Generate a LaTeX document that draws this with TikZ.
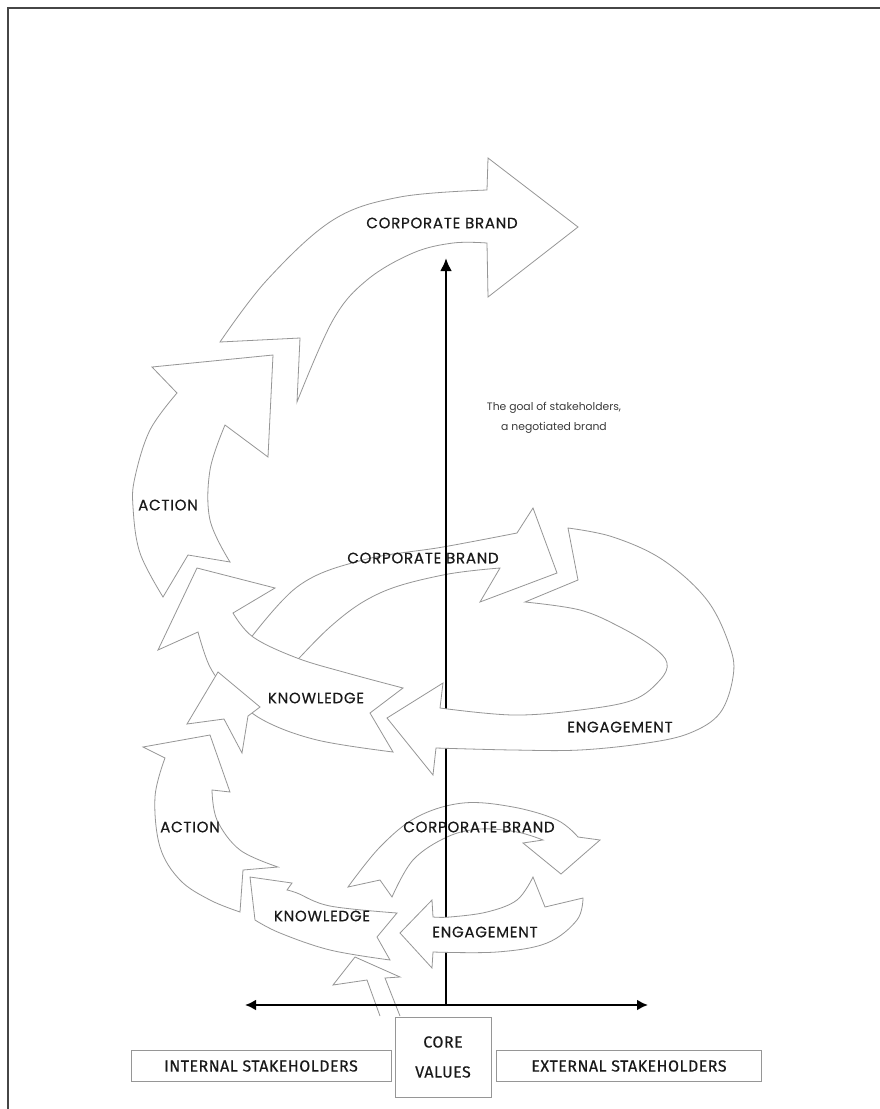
\documentclass[tikz,border=0pt]{standalone}
\usepackage{fontspec}
\setmainfont{Poppins}
\newfontfamily\lblfont{Poppins}[FakeBold=0.5,LetterSpace=5]
\newfontfamily\capfont{Poppins}
\newfontfamily\boxfont{Fira Sans}[FakeBold=0.3,LetterSpace=3]
\usetikzlibrary{arrows.meta}
\definecolor{arrgray}{RGB}{150,150,150}
\definecolor{ink}{RGB}{25,25,25}
\definecolor{framegray}{RGB}{70,70,70}
\begin{document}
\begin{tikzpicture}[x=1pt,y=-1pt,
  arr/.style={draw=arrgray, fill=white, line width=0.8pt, line join=miter},
  lbl/.style={text=ink, font=\lblfont\fontsize{15}{17}\selectfont, inner sep=0pt},
  captxt/.style={text=ink!85, font=\capfont\fontsize{10.8}{20}\selectfont, align=center, inner sep=0pt},
  boxtxt/.style={text=ink, font=\boxfont\fontsize{16}{19}\selectfont, align=center, inner sep=0pt},
  axis/.style={draw=black, line width=2.6pt},
  sbox/.style={draw=arrgray, line width=0.8pt, fill=white}]
\useasboundingbox (0,0) rectangle (880,1109);
\fill[white] (0,0) rectangle (880,1109);
% frame
\draw[framegray, line width=1.4pt] (8,1109) -- (8,8) -- (880,8);

% ---- top corporate brand (big) ----
\filldraw[arr] plot[smooth,tension=0.6] coordinates {(220,342) (267,280) (333,220) (400,197) (487,190)}
  -- (488,158) -- (578,227) -- (488,297) --
  plot[smooth,tension=0.6] coordinates {(487,243) (453,243) (413,253) (367,280) (333,320) (297,402)}
  -- (300,338) -- cycle;
\node[lbl] (cb1) at (442,223) {CORPORATE BRAND};

% ---- upper action ----
\filldraw[arr] plot[smooth,tension=0.6] coordinates {(163,597) (140,553) (133,507) (135,477) (150,430) (177,393)}
  -- (152,367) -- (273,355) -- (268,457) --
  plot[smooth,tension=0.6] coordinates {(225,425) (210,470) (210,520) (230,562)}
  -- (188,555) -- cycle;
\node[lbl] (act1) at (168,505) {ACTION};

% ---- middle corporate brand ----
\filldraw[arr] plot[smooth,tension=0.6] coordinates {(240,652) (297,587) (363,560) (443,547) (517,533)}
  -- (533,508) -- (557,573) -- (480,602) --
  plot[smooth,tension=0.6] coordinates {(500,568) (443,575) (380,593) (330,627) (270,690)}
  -- cycle;
\node[lbl] (cb2) at (423,558) {CORPORATE BRAND};

% ---- middle knowledge ----
\filldraw[arr] (197,568) -- (275,588) --
  plot[smooth,tension=0.6] coordinates {(233,613) (253,637) (297,658) (347,673) (403,688)}
  -- (370,713) --
  plot[smooth,tension=0.6] coordinates {(393,752) (317,740) (263,720) (230,693) (210,667) (198,632)}
  -- (158,650) -- cycle;
\node[lbl] (kn1) at (316,698) {KNOWLEDGE};

% ---- small corporate brand ----
\filldraw[arr] plot[smooth,tension=0.6] coordinates {(348,887) (380,847) (417,817) (463,803) (513,807) (557,820) (578,837)}
  -- (600,840) -- (561,874) -- (523,843) --
  plot[smooth,tension=0.6] coordinates {(543,840) (517,832) (480,829) (447,837) (413,860) (392,897)}
  -- (380,880) -- cycle;
\node[lbl] (cb3) at (479,827) {CORPORATE BRAND};

% ---- lower action ----
\filldraw[arr] (240,912) -- (243,870) --
  plot[smooth,tension=0.6] coordinates {(278,867) (240,850) (217,820) (212,790)}
  -- (230,792) -- (210,735) -- (143,747) --
  plot[smooth,tension=0.6] coordinates {(165,758) (155,797) (160,847) (180,880) (210,900) (240,912)}
  -- cycle;
\node[lbl] (act2) at (190,827) {ACTION};

% ---- small arrow above lower action ----
\filldraw[arr] (218,672) -- (187,724) -- (224,719) -- (242,753) -- (248,716) -- (260,707) -- cycle;

% ---- lower knowledge ----
\filldraw[arr] (250,877) -- (292,883) --
  plot[smooth,tension=0.6] coordinates {(287,890) (297,893) (330,906) (397,913)}
  -- (377,937) --
  plot[smooth,tension=0.6] coordinates {(390,960) (330,950) (280,933) (255,920)}
  -- cycle;
\node[lbl] (kn2) at (322,916) {KNOWLEDGE};

% ---- start arrow from core values ----
\fill[white] (380,1016) -- (367,980) -- (333,985) -- (355,957) -- (400,977) -- (385,978) -- (400,1016) -- cycle;
\draw[draw=arrgray, line width=0.8pt] (380,1016) -- (367,980) -- (333,985) -- (355,957) -- (400,977) -- (385,978) -- (400,1016);

% ---- boxes ----
\node[sbox, minimum width=260pt, minimum height=31pt, boxtxt] (internal) at (261,1066) {INTERNAL STAKEHOLDERS};
\node[sbox, minimum width=265pt, minimum height=31pt, boxtxt] (external) at (629,1066) {EXTERNAL STAKEHOLDERS};
\node[sbox, minimum width=96pt, minimum height=80pt, boxtxt] (core) at (443,1057) {CORE\\[11pt]VALUES};

% ---- axes ----
\coordinate (origin) at (446,1005);
\coordinate (goal) at (446,258);
\coordinate (leftend) at (245,1005);
\coordinate (rightend) at (648,1005);
\draw[axis, -{Latex[length=13pt,width=12pt]}] (origin) -- (goal);
\draw[axis, {Latex[length=11pt,width=11pt]}-{Latex[length=11pt,width=11pt]}] (leftend) -- (rightend);

% ---- middle engagement (covers axis) ----
\filldraw[arr] plot[smooth,tension=0.6] coordinates {(568,528) (613,537) (663,560) (707,600) (730,647) (733,677) (720,713) (690,733) (647,743) (580,750) (513,750) (436,748)}
  -- (433,775) -- (387,718) -- (443,683) --
  plot[smooth,tension=0.6] coordinates {(440,708) (513,715) (580,710) (633,700) (660,680) (667,663) (653,647) (620,627) (580,610) (525,602)}
  -- (578,580) -- cycle;
\node[lbl] (eng1) at (620,727) {ENGAGEMENT};

% ---- small engagement (covers axis) ----
\filldraw[arr] plot[smooth,tension=0.6] coordinates {(533,877) (517,900) (487,912) (450,917) (433,917)}
  -- (432,900) -- (400,933) -- (432,968) --
  plot[smooth,tension=0.6] coordinates {(433,952) (497,952) (547,943) (577,920) (583,898)}
  -- (545,907) -- cycle;
\node[lbl] (eng2) at (485,932) {ENGAGEMENT};

% ---- caption ----
\node[captxt] (goaltxt) at (554,418) {The goal of stakeholders,\\a negotiated brand};
\end{tikzpicture}
\end{document}
